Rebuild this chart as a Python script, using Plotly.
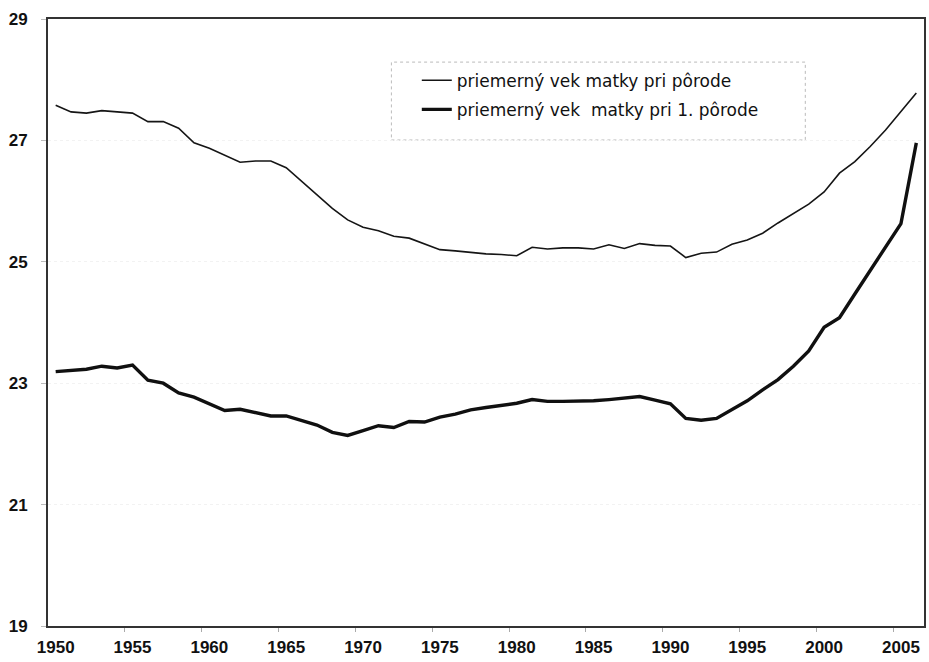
import plotly.graph_objects as go

years = list(range(1950, 2007))

vek_porod = [
    27.58, 27.47, 27.45, 27.49, 27.47, 27.45, 27.31, 27.31, 27.20, 26.96,
    26.87, 26.75, 26.64, 26.66, 26.66, 26.55, 26.33, 26.10, 25.88, 25.69,
    25.57, 25.51, 25.42, 25.39, 25.29, 25.20, 25.18, 25.15, 25.13, 25.12,
    25.10, 25.24, 25.21, 25.23, 25.23, 25.21, 25.28, 25.22, 25.30, 25.27,
    25.26, 25.07, 25.14, 25.16, 25.29, 25.36, 25.47, 25.64, 25.80, 25.95,
    26.15, 26.46, 26.65, 26.90, 27.17, 27.47, 27.78,
]

vek_1_porod = [
    23.19, 23.21, 23.23, 23.28, 23.25, 23.30, 23.05, 23.00, 22.84, 22.77,
    22.66, 22.55, 22.57, 22.52, 22.46, 22.46, 22.39, 22.31, 22.19, 22.14,
    22.22, 22.30, 22.27, 22.37, 22.36, 22.44, 22.49, 22.56, 22.60, 22.64,
    22.67, 22.73, 22.70, 22.70, 22.70, 22.71, 22.73, 22.76, 22.78, 22.72,
    22.66, 22.42, 22.39, 22.42, 22.56, 22.71, 22.89, 23.06, 23.28, 23.53,
    23.92, 24.08, 24.47, 24.86, 25.23, 25.63, 26.96,
]

x_ticks = list(range(1950, 2006, 5))
y_ticks = [19, 21, 23, 25, 27, 29]

name1 = "priemerný vek matky pri pôrode"
name2 = "priemerný vek  matky pri 1. pôrode"

fig = go.Figure()
fig.add_trace(go.Scatter(
    x=years, y=vek_porod, mode="lines", name=name1, legendgroup="a",
    line=dict(color="#151515", width=1.6),
))
fig.add_trace(go.Scatter(
    x=years, y=vek_1_porod, mode="lines", name=name2, legendgroup="b",
    line=dict(color="#101010", width=3.4),
))

tick_font = dict(family="Arial, Liberation Sans, sans-serif", size=17, color="#111111", weight="bold")

fig.update_layout(
    width=929, height=662,
    margin=dict(l=48, r=3, t=19, b=36),
    paper_bgcolor="white", plot_bgcolor="white",
    showlegend=True,
    legend=dict(
        x=0.421, y=0.928, xanchor="left", yanchor="top",
        bgcolor="rgba(255,255,255,0)", borderwidth=0,
        font=dict(family="DejaVu Sans, sans-serif", size=17, color="#111111"),
        tracegroupgap=4,
    ),
    xaxis=dict(
        range=[1949.5, 2006.5],
        tickmode="array", tickvals=x_ticks,
        ticks="", showgrid=False, zeroline=False,
        showline=True, linecolor="#333333", linewidth=2, mirror=True,
        tickfont=tick_font, ticklabelstandoff=5,
        minor=dict(tickmode="array", tickvals=[v - 0.5 for v in x_ticks[1:]] + [2004.5],
                   ticks="outside", ticklen=4, tickcolor="#aaaaaa", tickwidth=1, showgrid=False),
    ),
    yaxis=dict(
        range=[19, 29],
        tickmode="array", tickvals=y_ticks,
        ticks="outside", ticklen=5, tickcolor="#bbbbbb", tickwidth=1,
        showgrid=True, gridcolor="#f2f2f2", griddash="dot", gridwidth=1,
        zeroline=False,
        showline=True, linecolor="#333333", linewidth=2, mirror=True,
        tickfont=tick_font, ticklabelstandoff=10,
    ),
    shapes=[dict(
        type="rect", xref="paper", yref="paper",
        x0=0.392, x1=0.8645, y0=0.8007, y1=0.929,
        line=dict(color="#bbbbbb", width=1, dash="dot"),
        fillcolor="white", layer="below",
    )],
)

fig.write_html(
    "out.html",
    config={"displayModeBar": False},
    post_script="document.body.style.margin='0';document.body.style.overflow='hidden';",
)
